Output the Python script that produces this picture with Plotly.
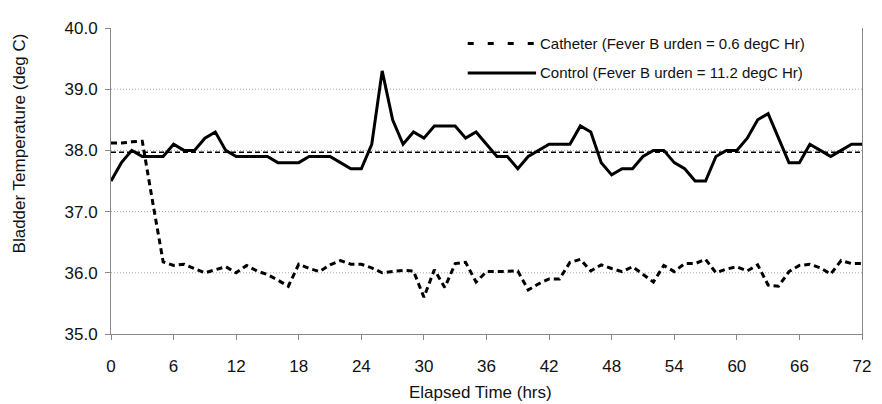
import plotly.graph_objects as go

hours = list(range(0, 73))

catheter = [38.12, 38.12, 38.14, 38.15, 37.15, 36.18, 36.12, 36.14, 36.07, 36.0,
            36.05, 36.1, 36.0, 36.12, 36.03, 35.97, 35.88, 35.78, 36.14, 36.07,
            36.02, 36.13, 36.2, 36.14, 36.14, 36.08, 36.0, 36.02, 36.04, 36.03,
            35.6, 36.05, 35.76, 36.15, 36.17, 35.85, 36.02, 36.02, 36.03, 36.03,
            35.72, 35.82, 35.9, 35.9, 36.17, 36.22, 36.03, 36.13, 36.07, 36.02,
            36.1, 35.98, 35.85, 36.12, 36.02, 36.15, 36.15, 36.22, 36.0, 36.06,
            36.1, 36.03, 36.13, 35.8, 35.78, 36.02, 36.12, 36.14, 36.08, 35.98,
            36.2, 36.15, 36.15]

control = [37.5, 37.8, 38.0, 37.9, 37.9, 37.9, 38.1, 38.0, 38.0, 38.2,
           38.3, 38.0, 37.9, 37.9, 37.9, 37.9, 37.8, 37.8, 37.8, 37.9,
           37.9, 37.9, 37.8, 37.7, 37.7, 38.1, 39.3, 38.5, 38.1, 38.3,
           38.2, 38.4, 38.4, 38.4, 38.2, 38.3, 38.1, 37.9, 37.9, 37.7,
           37.9, 38.0, 38.1, 38.1, 38.1, 38.4, 38.3, 37.8, 37.6, 37.7,
           37.7, 37.9, 38.0, 38.0, 37.8, 37.7, 37.5, 37.5, 37.9, 38.0,
           38.0, 38.2, 38.5, 38.6, 38.2, 37.8, 37.8, 38.1, 38.0, 37.9,
           38.0, 38.1, 38.1]

threshold_x = [0, 72]
threshold_y = [37.97, 37.97]

x_ticks = list(range(0, 73, 6))
y_ticks = [35.0, 36.0, 37.0, 38.0, 39.0, 40.0]
grid_vals = [36.0, 37.0, 38.0, 39.0]

legend_names = ["Catheter (Fever B urden = 0.6 degC Hr)",
                "Control (Fever B urden = 11.2 degC Hr)"]
x_title = "Elapsed Time (hrs)"
y_title = "Bladder Temperature (deg C)"

FONT = "Liberation Sans, Arial, sans-serif"

fig = go.Figure()

fig.add_trace(go.Scatter(x=threshold_x, y=threshold_y, mode="lines",
                         line=dict(color="black", width=1.6, dash="5px,3px"),
                         hoverinfo="skip", showlegend=False))
fig.add_trace(go.Scatter(x=hours, y=catheter, mode="lines", name=legend_names[0],
                         line=dict(color="black", width=3, dash="6px,4px"),
                         showlegend=False))
fig.add_trace(go.Scatter(x=hours, y=control, mode="lines", name=legend_names[1],
                         line=dict(color="black", width=3),
                         showlegend=False))

shapes = []
for g in grid_vals:
    shapes.append(dict(type="line", xref="x", yref="y", x0=0, x1=72, y0=g, y1=g,
                       line=dict(color="#a8a8a8", width=1, dash="1px,2px"), layer="below"))
# legend background (white box covering grid)
shapes.append(dict(type="rect", xref="paper", yref="paper", x0=0.393, x1=0.996,
                   y0=0.765, y1=0.997, fillcolor="white", line=dict(width=0),
                   layer="below"))
# legend samples
shapes.append(dict(type="line", xref="paper", yref="paper", x0=0.475, x1=0.566,
                   y0=0.949, y1=0.949, line=dict(color="black", width=3, dash="6px,14px")))
shapes.append(dict(type="line", xref="paper", yref="paper", x0=0.475, x1=0.566,
                   y0=0.853, y1=0.853, line=dict(color="black", width=3)))

annotations = [
    dict(x=0.569, y=0.949, xref="paper", yref="paper", text=legend_names[0],
         showarrow=False, xanchor="left", yanchor="middle",
         font=dict(family=FONT, size=15, color="#111")),
    dict(x=0.569, y=0.853, xref="paper", yref="paper", text=legend_names[1],
         showarrow=False, xanchor="left", yanchor="middle",
         font=dict(family=FONT, size=15, color="#111")),
    dict(x=0.492, y=-0.19, xref="paper", yref="paper", text=x_title,
         showarrow=False, xanchor="center", yanchor="middle",
         font=dict(family=FONT, size=17, color="#111")),
    dict(x=-0.1224, y=0.623, xref="paper", yref="paper", text=y_title,
         showarrow=False, xanchor="center", yanchor="middle", textangle=-90,
         font=dict(family=FONT, size=17, color="#111")),
]

# page body has an 8px default margin, so the figure is sized/offset to compensate
fig.update_layout(
    width=874, height=396,
    margin=dict(l=103, r=11, t=13, b=70),
    paper_bgcolor="white", plot_bgcolor="white",
    shapes=shapes, annotations=annotations,
    showlegend=False,
    font=dict(family=FONT, color="#111"),
    xaxis=dict(range=[0, 72], tickvals=x_ticks, showgrid=False, zeroline=False,
               showline=True, linecolor="#8a8a8a", linewidth=1,
               ticks="outside", ticklen=5, tickcolor="#8a8a8a",
               ticklabelstandoff=12,
               tickfont=dict(family=FONT, size=17, color="#111")),
    yaxis=dict(range=[35, 40], tickvals=y_ticks, tickformat=".1f", showgrid=False,
               zeroline=False, showline=True, mirror=True, linecolor="#8a8a8a",
               linewidth=1, ticks="outside", ticklen=5, tickcolor="#8a8a8a",
               ticklabelstandoff=4,
               tickfont=dict(family=FONT, size=17, color="#111")),
)

fig.write_html("out.html")
